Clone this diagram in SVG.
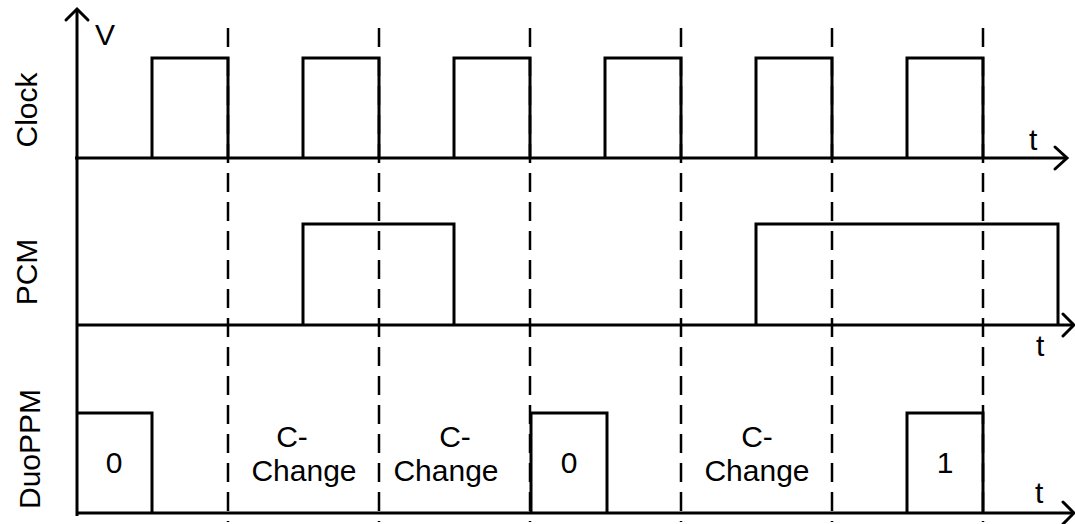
<svg xmlns="http://www.w3.org/2000/svg" width="1075" height="524" viewBox="0 0 1075 524">
<style>
.ln{fill:none;stroke:#000;stroke-width:3;stroke-linejoin:miter;stroke-linecap:butt}
.ah{fill:none;stroke:#000;stroke-width:3;stroke-linecap:round;stroke-linejoin:miter}
.dash{fill:none;stroke:#000;stroke-width:2.5;stroke-dasharray:19 10}
.t{font-family:"Liberation Sans",Arial,sans-serif;font-size:30px;fill:#000}
</style>
<rect width="1075" height="524" fill="#fff"/>
<g id="grid">
<line class="dash" x1="228" y1="28" x2="228" y2="522"/>
<line class="dash" x1="379" y1="28" x2="379" y2="522"/>
<line class="dash" x1="530" y1="28" x2="530" y2="522"/>
<line class="dash" x1="681" y1="28" x2="681" y2="522"/>
<line class="dash" x1="832" y1="28" x2="832" y2="522"/>
<line class="dash" x1="983" y1="28" x2="983" y2="522"/>
</g>
<g id="axes">
<line class="ln" x1="77" y1="9" x2="77" y2="516"/>
<polyline class="ah" points="66,20 77,9 88,20"/>
<text class="t" x="95" y="45">V</text>
<line class="ln" x1="75" y1="158" x2="1067" y2="158"/>
<polyline class="ah" points="1055,147 1067,158 1055,169"/>
<text class="t" x="1029" y="150">t</text>
<line class="ln" x1="77" y1="325" x2="1074" y2="325"/>
<polyline class="ah" points="1063,314 1074,325 1063,336"/>
<text class="t" x="1036" y="356">t</text>
<line class="ln" x1="77" y1="513" x2="1074" y2="513"/>
<polyline class="ah" points="1063,502 1074,513 1063,524"/>
<text class="t" x="1035" y="503">t</text>
</g>
<g id="clock">
<text class="t" transform="translate(37,110) rotate(-90)" text-anchor="middle">Clock</text>
<path class="ln" d="M152,158V58H228V158 M303,158V58H379V158 M454,158V58H530V158 M605,158V58H681V158 M756,158V58H832V158 M907,158V58H983V158"/>
</g>
<g id="pcm">
<text class="t" transform="translate(37,272) rotate(-90)" text-anchor="middle">PCM</text>
<path class="ln" d="M303,325V224H454V325 M756,325V224H1058V325"/>
</g>
<g id="duoppm">
<text class="t" transform="translate(40,449) rotate(-90)" text-anchor="middle">DuoPPM</text>
<path class="ln" d="M77,413H152V513 M531,513V413H607V513 M907,513V413H983V513"/>
<text class="t" x="114" y="473" text-anchor="middle">0</text>
<text class="t" x="569" y="473" text-anchor="middle">0</text>
<text class="t" x="945" y="473" text-anchor="middle">1</text>
<text class="t" x="292" y="447" text-anchor="middle">C-</text>
<text class="t" x="304" y="481" text-anchor="middle">Change</text>
<text class="t" x="455" y="447" text-anchor="middle">C-</text>
<text class="t" x="446" y="481" text-anchor="middle">Change</text>
<text class="t" x="757" y="447" text-anchor="middle">C-</text>
<text class="t" x="757" y="481" text-anchor="middle">Change</text>
</g>
</svg>
